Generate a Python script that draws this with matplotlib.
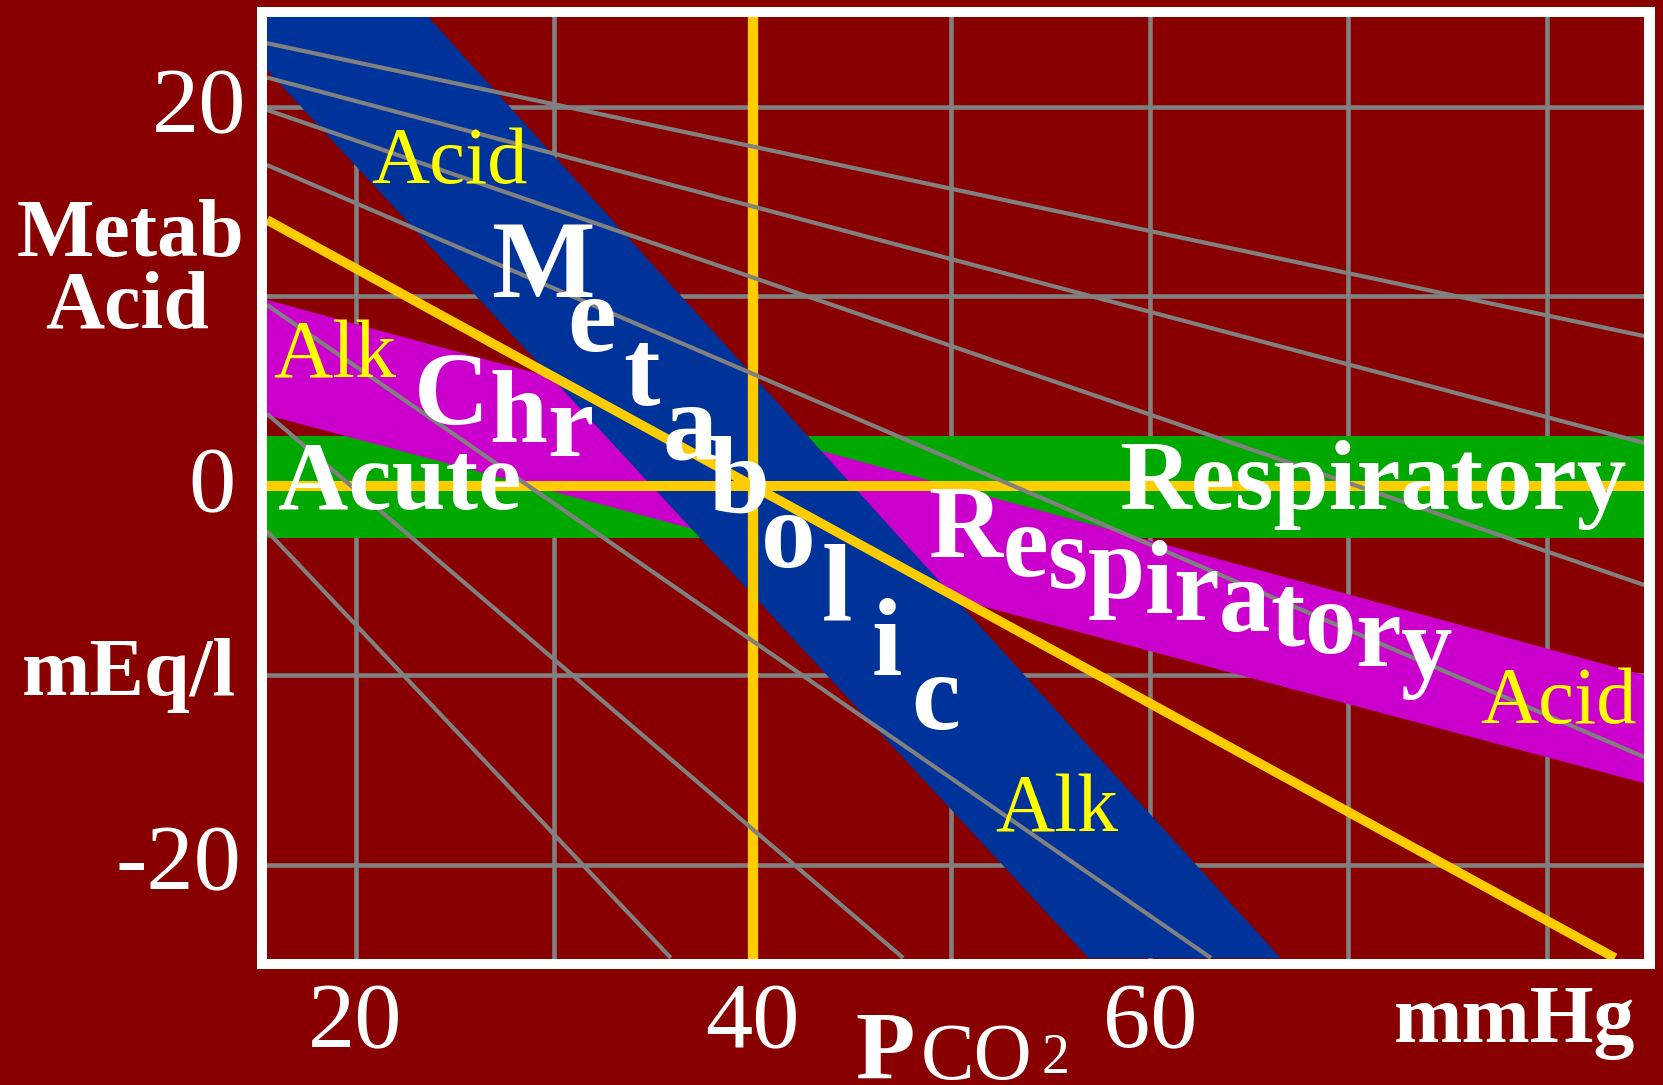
import matplotlib
matplotlib.use("Agg")
import matplotlib.pyplot as plt
from matplotlib.patches import Rectangle, Polygon
from matplotlib.transforms import blended_transform_factory, ScaledTranslation

# ---------------- data ----------------
# axes range: PCO2 (mmHg) and base deficit (mEq/l, metabolic acid upward)
x_range = [15.54, 84.89]
y_range = [-24.95, 24.77]

grid_x = [20, 30, 50, 60, 70, 80]
grid_y = [-20, -10, 10, 20]
ref_x = 40          # normal PCO2 (yellow)
ref_y = 0           # zero base excess (yellow)

x_tick_vals = [20, 40, 60]
x_tick_labels = ["20", "40", "60"]
y_tick_vals = [20, 0, -20]
y_tick_labels = ["20", "0", "-20"]

# iso-pH lines: two end points each
iso_ph = [7.0, 7.1, 7.2, 7.3, 7.5, 7.6, 7.7]
iso_x0 = [15.54, 15.54, 15.54, 15.54, 15.54, 15.54, 15.54]
iso_y0 = [23.37, 21.56, 19.85, 16.94, 9.55, 3.80, -2.38]
iso_x1 = [84.89, 84.89, 84.89, 84.89, 63.08, 47.58, 35.88]
iso_y1 = [7.91, 2.27, -5.23, -14.31, -24.92, -24.92, -24.92]

# pH 7.40 line (yellow)
normal_x = [15.54, 83.43]
normal_y = [14.04, -24.92]

# bands
acute_resp_y = [-2.77, 2.63]
chronic_resp_x = [15.54, 84.89, 84.89, 15.54]
chronic_resp_y = [9.82, -9.98, -15.69, 3.74]
metab_x = [15.54, 23.65, 66.59, 56.92, 15.54]
metab_y = [24.77, 24.77, -24.93, -24.93, 21.96]

# ---------------- style ----------------
W, H = 1663, 1085
BG = "#880000"
BLUE = "#003399"
MAG = "#CC00CC"
GREEN = "#00A800"
LYEL = "#FFCC00"
TYEL = "#FFFF00"
GREY = "#808080"
WHITE = "#FFFFFF"
SERIF = ["Liberation Serif", "DejaVu Serif"]

fig = plt.figure(figsize=(W / 100, H / 100), dpi=100, facecolor=BG)


def fx(x):
    return x / W


def fy(y):
    return 1 - y / H


# white frame
fig.patches.append(Rectangle((fx(257), fy(969)), fx(1655) - fx(257), fy(6.7) - fy(969),
                             transform=fig.transFigure, facecolor=WHITE,
                             edgecolor="none", zorder=0))

ax = fig.add_axes([fx(267), fy(958.5), fx(1644) - fx(267), fy(16.7) - fy(958.5)])
ax.set_zorder(1)
ax.set_facecolor(BG)
ax.set_xlim(*x_range)
ax.set_ylim(*y_range)
for s in ax.spines.values():
    s.set_visible(False)
ax.set_xticks([])
ax.set_yticks([])

GLW = 3.3
for gx in grid_x:
    ax.axvline(gx, color=GREY, lw=GLW, zorder=1)
for gy in grid_y:
    ax.axhline(gy, color=GREY, lw=GLW, zorder=1)

ax.axhspan(acute_resp_y[0], acute_resp_y[1], color=GREEN, lw=0, zorder=2)
ax.add_patch(Polygon(list(zip(chronic_resp_x, chronic_resp_y)), closed=True,
                     facecolor=MAG, edgecolor="none", zorder=3))
ax.add_patch(Polygon(list(zip(metab_x, metab_y)), closed=True,
                     facecolor=BLUE, edgecolor="none", zorder=4))

ax.axvline(ref_x, color=LYEL, lw=7.4, zorder=5)
ax.axhline(ref_y, color=LYEL, lw=7.2, zorder=5)
ax.plot(normal_x, normal_y, color=LYEL, lw=6.8, zorder=5, solid_capstyle="butt")

for x0, y0, x1, y1 in zip(iso_x0, iso_y0, iso_x1, iso_y1):
    ax.plot([x0, x1], [y0, y1], color=GREY, lw=3.0, zorder=6, solid_capstyle="butt")

# ---------------- tick labels ----------------
tx = blended_transform_factory(ax.transData, fig.transFigure)
for v, lab in zip(x_tick_vals, x_tick_labels):
    ax.text(v, fy(1047), lab, transform=tx, ha="center", va="baseline",
            fontsize=68, color=WHITE, family=SERIF, clip_on=False)

ty = blended_transform_factory(fig.transFigure, ax.transData) + \
    ScaledTranslation(0, -0.25, fig.dpi_scale_trans)
y_right = {"20": 246, "0": 236, "-20": 241}
for v, lab in zip(y_tick_vals, y_tick_labels):
    ax.text(fx(y_right[lab]), v, lab, transform=ty, ha="right", va="baseline",
            fontsize=68, color=WHITE, family=SERIF, clip_on=False)


def ftext(x, y, s, size, color=WHITE, weight="bold", ha="left"):
    return fig.text(fx(x), fy(y), s, fontsize=size, color=color, family=SERIF,
                    fontweight=weight, ha=ha, va="baseline", zorder=10)


# axis titles
ftext(130, 256, "Metab", 59, ha="center")
ftext(127, 328, "Acid", 59, ha="center")
ftext(129, 695, "mEq/l", 59, ha="center")
ftext(1394, 1042, "mmHg", 59)
ftext(855, 1079, "P", 70)
ftext(921, 1079, "CO", 58, weight="normal")
ftext(1042, 1073, "2", 40, weight="normal")

# yellow direction labels
ftext(371, 183, "Acid", 58, color=TYEL, weight="normal")
ftext(273, 378, "Alk", 59, color=TYEL, weight="normal")
ftext(995, 832, "Alk", 59, color=TYEL, weight="normal")
ftext(1480, 723, "Acid", 58, color=TYEL, weight="normal")

# band labels
ftext(278, 509, "Acute", 70)
ftext(1119, 509, "Respiratory", 71.5)

renderer = fig.canvas.get_renderer()


def stepped(s, x0, y0, slope, size):
    for i, ch in enumerate(s):
        w = 0.0
        if i > 0:
            t = fig.text(0, 0, s[:i], fontsize=size, family=SERIF, fontweight="bold")
            w = t.get_window_extent(renderer).width
            t.remove()
        ftext(x0 + w, y0 + slope * w, ch, size)


stepped("Chr", 414, 424, 0.24, 75)
stepped("Respiratory", 928, 557, 0.255, 74)

for i, ch in enumerate("Metabolic"):
    ftext(543 + 49.1 * i, 297 + 54 * i, ch, 79, ha="center")

fig.savefig("out.png", dpi=100, facecolor=BG)
